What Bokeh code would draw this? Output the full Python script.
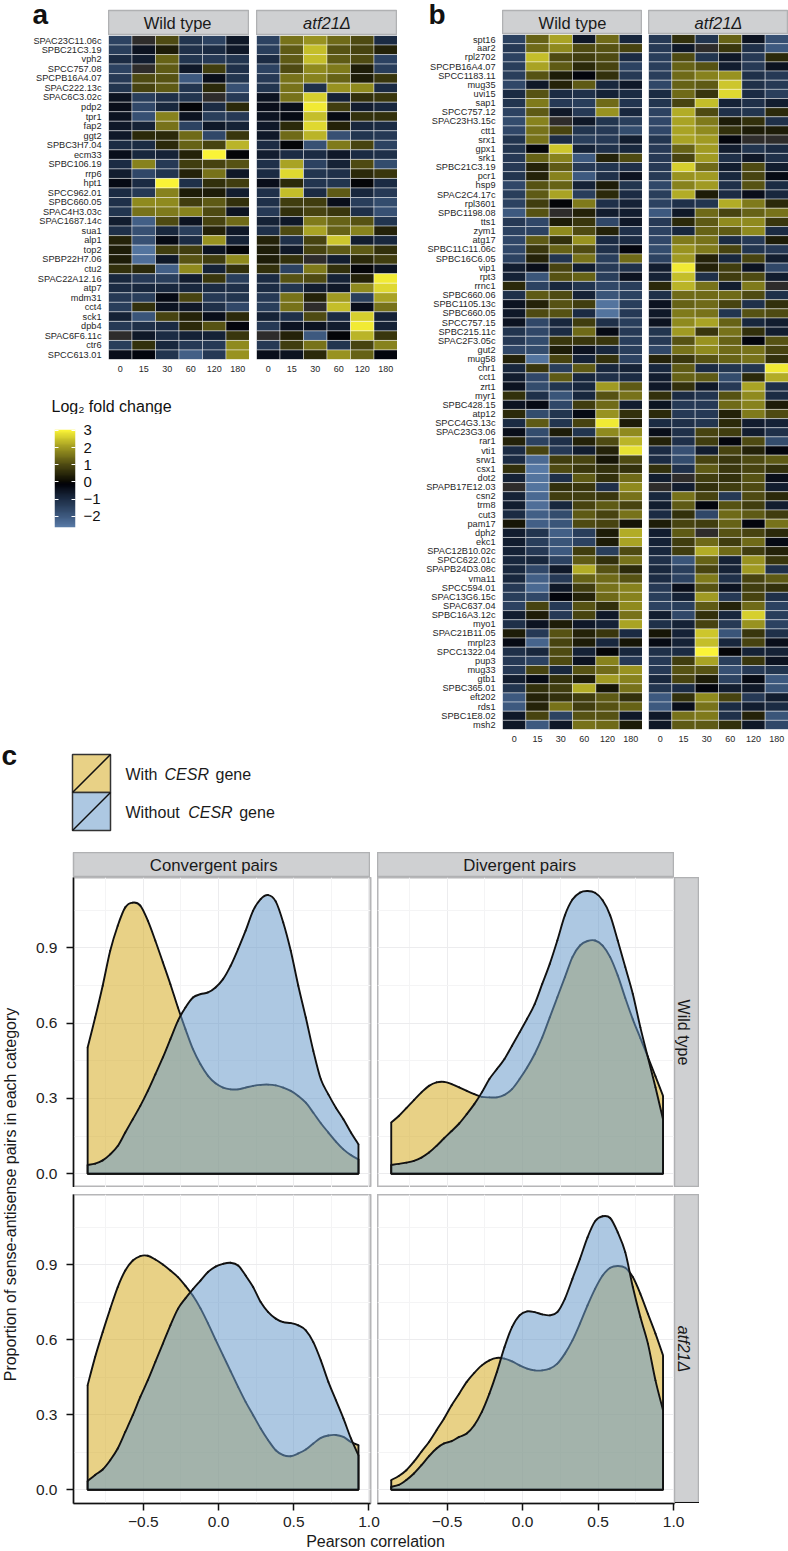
import numpy as np
from math import pi
from bokeh.plotting import figure
from bokeh.models import (Row, Column, ColumnDataSource, LinearColorMapper, LinearAxis, Grid,
                          FixedTicker, NumeralTickFormatter)
from bokeh.core.properties import value
from bokeh.transform import transform
from bokeh.embed import file_html
from bokeh.resources import INLINE

FONT = "Liberation Sans"
times = ["0", "15", "30", "60", "120", "180"]

a_genes = ["SPAC23C11.06c","SPBC21C3.19","vph2","SPCC757.08","SPCPB16A4.07","SPAC222.13c","SPAC6C3.02c","pdp2","tpr1","fap2","ggt2","SPBC3H7.04","ecm33","SPBC106.19","rrp6","hpt1","SPCC962.01","SPBC660.05","SPAC4H3.03c","SPAC1687.14c","sua1","alp1","top2","SPBP22H7.06","ctu2","SPAC22A12.16","atp7","mdm31","cct4","sck1","dpb4","SPAC6F6.11c","ctr6","SPCC613.01"]

a_wt = [
[-1.5,0,1.0,-1.2,-1.5,-0.6],[-1.4,-0.5,0.3,-1.1,-1.0,-0.6],[-1.0,-0.7,1.3,-1.2,-1.3,-1.2],[-1.5,0,1.2,-0.6,0.8,-1.1],
[-1.3,1.0,1.1,-2.0,-0.4,-1.2],[-1.2,0.9,1.2,-1.2,0.5,-1.8],[-0.5,-1.4,-1.1,-1.2,0,-1.3],[-0.4,-1.6,-0.9,-0.1,-1.0,0.5],
[-0.5,-1.8,1.7,-0.5,-1.4,-1.3],[-0.6,-0.8,1.5,-1.5,-0.6,-0.8],[-0.6,0.5,0.5,1.4,-1.6,0.7],[-1.0,-1.0,0.5,1.3,0.9,2.3],
[-0.4,-0.9,-0.8,0.4,3.0,-0.1],[-1.0,1.7,-1.3,0.8,0.9,1.1],[-0.7,-1.6,-1.2,0.4,1.5,-0.6],[-0.3,-1.0,3.0,-1.1,0.6,0.8],
[-1.0,-1.3,1.7,0.3,0.3,-0.7],[-1.1,1.8,1.8,0.8,1.2,0.6],[-1.2,1.5,1.6,1.7,1.0,-0.5],[-0.7,-2.1,1.0,-0.5,0.9,1.4],
[-1.1,-1.8,-0.9,-1.4,0.4,-0.6],[0.4,-1.8,-0.3,-1.0,1.9,-0.8],[0.3,-2.5,0.8,0.8,-0.5,-0.1],[0.3,-2.4,-0.6,1.1,0.8,1.8],
[0.6,0.5,-2.1,1.8,-0.8,0.6],[-0.9,-1.3,-1.4,-0.7,0.7,-1.4],[-1.0,-0.9,-0.9,-0.9,-1.0,-1.1],[-1.3,-1.4,-0.3,0.9,-1.3,-1.2],
[-1.4,0.6,-0.5,-0.6,-1.1,-1.6],[-0.8,-1.9,0.9,0.4,-0.4,0.5],[-1.3,-1.1,-1.0,0.5,1.1,-0.2],[0,-0.6,-1.0,-0.8,-0.8,0.7],
[-1.4,0.6,-0.9,-1.3,-1.3,1.8],[-0.4,-0.2,-1.2,-2.1,-1.3,1.9]]

a_atf = [
[-1.5,1.5,1.9,1.4,1.0,-1.0],[-1.4,1.2,2.4,1.1,0.9,0.4],[-1.0,1.2,2.4,1.2,1.0,-1.5],[-1.5,1.0,1.8,1.6,0.3,-1.4],
[-1.3,1.5,1.7,1.3,0.3,0.7],[-1.2,1.5,-1.1,1.9,1.8,-1.0],[-0.5,1.5,2.6,-0.8,0.6,0.7],[-0.4,-0.4,2.9,0.8,-0.7,-0.9],
[-0.5,-0.3,2.4,-0.3,0.6,0.6],[-0.6,0.5,2.7,0.4,-0.9,-1.0],[-0.6,1.4,2.3,-1.8,-1.2,-1.3],[-1.0,-0.1,-1.8,1.6,0.9,-1.5],
[-0.7,-1.0,-1.0,-0.6,-1.0,-1.1],[-1.1,2.1,-1.5,-0.8,1.0,-1.7],[-1.0,2.7,-1.2,-1.1,0.5,0.7],[-0.4,0.5,-1.2,-1.2,-0.1,-1.0],
[-1.1,2.4,-1.0,1.2,-0.9,-1.3],[-1.1,0.8,0.8,-0.4,-1.4,-1.7],[-1.3,0.6,0.9,0.7,-1.1,-1.8],[-0.8,-0.6,1.6,1.3,1.1,-1.2],
[-1.1,1.0,2.1,1.3,1.7,0.4],[0.4,-1.1,0.9,2.5,-0.7,-0.9],[0.3,-0.6,0.9,1.2,1.2,0.6],[0.3,0.6,0,-0.7,0.5,0.8],
[0.6,-1.5,1.6,0.6,-0.1,-0.5],[-1.0,1.1,1.0,-0.8,0.4,2.9],[-1.0,-1.2,-0.7,-0.6,1.8,2.7],[-1.3,1.5,0.4,2.0,-1.4,2.1],
[-1.4,1.5,0,2.4,-0.4,1.5],[-0.8,-1.1,1.0,-1.0,2.6,-0.8],[-1.3,-0.5,-0.5,-0.7,2.9,-0.8],[0,0.4,-2.0,-0.1,2.3,0.7],
[-1.3,0.8,1.5,-1.2,0.9,1.7],[-0.4,-0.5,0.5,1.9,1.3,-0.2]]

b_genes = ["spt16","aar2","rpl2702","SPCPB16A4.07","SPCC1183.11","mug35","uvi15","sap1","SPCC757.12","SPAC23H3.15c","ctt1","srx1","gpx1","srk1","SPBC21C3.19","pcr1","hsp9","SPAC2C4.17c","rpl3601","SPBC1198.08","tts1","zym1","atg17","SPBC11C11.06c","SPBC16C6.05","vip1","rpt3","rrnc1","SPBC660.06","SPBC1105.13c","SPBC660.05","SPCC757.15","SPBC215.11c","SPAC2F3.05c","gut2","mug58","chr1","cct1","zrt1","myr1","SPBC428.15","atp12","SPCC4G3.13c","SPAC23G3.06","rar1","vti1","srw1","csx1","dot2","SPAPB17E12.03","csn2","trm8","cut3","pam17","dph2","ekc1","SPAC12B10.02c","SPCC622.01c","SPAPB24D3.08c","vma11","SPCC594.01","SPAC13G6.15c","SPAC637.04","SPBC16A3.12c","myo1","SPAC21B11.05","mrpl23","SPCC1322.04","pup3","mug33","gtb1","SPBC365.01","eft202","rds1","SPBC1E8.02","msh2"]

b_wt = [
[-1.5,1.3,2.1,-0.6,1.4,-0.9],[-1.3,1.4,1.8,1.0,1.1,0.9],[-1.5,2.4,1.0,0.8,1.0,-1.0],[-1.4,2.1,1.2,0.5,0.9,-1.5],
[-1.4,1.1,0.3,-0.2,0.6,-1.3],[-1.6,-0.6,0.4,1.2,-0.9,-0.6],[-1.0,1.1,-1.0,-1.1,-0.8,-1.0],[-1.2,1.6,-1.3,-1.4,1.4,-1.2],
[-1.5,1.2,-0.6,-1.3,1.9,-0.9],[-1.7,1.7,0,-0.6,-1.2,-1.4],[-1.6,1.5,0.9,-1.2,-1.3,-1.7],[-1.2,1.5,-1.0,-1.4,-1.3,-0.7],
[-1.2,-0.1,2.5,-0.8,-1.1,-0.9],[-1.3,1.3,1.7,-2.0,0.4,1.0],[-1.3,0.4,1.2,-1.3,-1.2,-1.1],[-1.2,0.4,1.7,-2.0,-1.1,-0.5],
[-1.6,1.1,1.3,-0.8,0.3,-1.2],[-1.4,1.2,2.1,-1.4,0.5,-1.0],[-1.5,0.8,-0.1,1.6,-1.1,-0.8],[-2.0,1.1,0,0.4,-0.7,-0.7],
[-1.3,-1.6,0.3,0.7,-1.6,-0.6],[-1.5,-1.5,1.8,1.0,0.4,-1.1],[-1.6,1.2,0.6,1.9,-1.0,-1.0],[-1.6,0.7,1.3,1.0,-1.1,-0.2],
[-1.5,0.4,-1.2,1.5,-1.4,1.4],[-0.7,-0.4,0.9,-0.7,-1.3,-1.1],[-0.8,-1.9,1.1,1.3,-1.4,-0.5],[0.5,-1.5,-0.9,-1.2,-1.6,-1.4],
[-1.1,1.2,1.0,-0.8,-1.9,-1.5],[-0.5,0.4,1.1,0.8,-2.5,-1.4],[-0.6,1.0,1.1,-1.0,-2.5,-1.3],[-0.5,-1.6,-0.9,0.8,-1.1,-1.4],
[-1.2,-1.6,-1.0,1.4,-0.3,-1.3],[-1.3,-1.7,0.7,0.7,0.7,-1.4],[-1.6,-1.7,0.3,-0.5,-0.9,-1.4],[0.4,-2.5,0.9,-0.8,0.6,-1.5],
[-0.9,0.7,-1.4,1.2,-0.9,-0.8],[-0.7,-1.6,1.2,-0.9,-1.1,-1.0],[-0.5,-1.7,-1.2,-0.9,2.0,1.2],[0.6,-1.1,-1.9,-0.9,1.1,1.5],
[-0.5,-0.3,-1.6,0.8,1.4,-0.7],[0.5,-1.7,-1.2,-0.3,1.9,0.6],[-1.0,1.2,-1.2,0.9,2.9,0.3],[-0.4,-1.7,0.3,-1.2,1.8,1.8],
[0.4,-1.5,-1.1,0.4,1.0,2.3],[-1.0,0.9,-1.3,-0.7,0.4,2.8],[-1.0,-2.3,0.8,0.9,0.2,1.0],[0.6,-2.6,1.0,0.7,0.6,0.6],
[-0.8,-2.5,-1.1,1.2,0.6,1.4],[0,-2.5,0.6,0.7,-1.1,1.8],[-0.8,-2.3,0.8,0.8,0.7,1.5],[-0.7,-2.4,-0.9,0.9,1.2,0.9],
[-1.0,-2.1,-1.7,1.2,0.9,1.5],[0.2,-2.1,-1.9,1.0,0.9,0.2],[-0.7,-1.2,-2.1,-1.4,0.3,2.2],[-0.7,-1.4,-1.9,-1.5,0.3,2.1],
[-0.8,-1.3,-2.0,0.8,-1.4,1.0],[-0.9,-0.9,-1.5,1.2,0.6,1.5],[-0.9,-1.6,-0.6,2.2,1.1,0.5],[-0.9,-2.1,-1.3,1.3,1.4,1.1],
[-1.3,-2.3,-0.6,0.8,1.5,1.7],[-1.4,-1.6,-0.2,0.4,1.4,1.7],[-1.5,0.9,-1.3,1.1,0.6,1.8],[-0.7,0.3,-1.3,0.9,-0.6,1.5],
[-1.1,-0.5,0.3,-0.6,-0.8,2.1],[0.3,-1.3,1.1,0.4,0.7,-1.0],[-0.3,-2.2,0.9,0.3,-0.9,0.2],[-1.1,-0.9,1.0,-0.8,-0.1,-0.9],
[-1.3,-1.5,1.0,-0.5,1.7,-1.3],[-1.3,0.9,-0.9,1.1,1.4,1.9],[-0.7,-0.3,0.6,0.3,2.0,1.7],[-1.2,0.6,0.8,2.2,0.2,1.5],
[-2.0,0.4,0.6,0.8,1.2,0.6],[-2.0,0.4,1.5,0.8,1.1,1.3],[-0.6,0.9,-1.5,1.1,1.1,-0.6],[-0.6,-2.0,-0.6,1.5,1.4,0.3]]

b_atf = [
[-1.3,0.6,-1.2,1.3,-0.5,-1.8],[-1.3,-0.6,0,0.7,-1.1,-2.0],[-1.4,1.0,-1.2,-0.6,-1.3,0.5],[-1.4,1.3,1.1,-0.7,-1.3,-0.5],
[-1.4,1.4,1.7,1.9,-1.1,-1.3],[-1.6,1.3,1.2,2.5,-1.1,-1.3],[-1.0,1.4,0.7,2.7,-1.0,-1.4],[-1.2,0.9,2.4,-0.8,-1.1,-0.7],
[-1.5,2.2,1.0,-1.1,-1.2,0.5],[-1.6,2.1,1.6,0.3,0.6,-1.1],[-1.6,2.1,1.8,0.6,0.3,0.3],[-1.2,2.1,2.0,-0.2,0,0],
[-1.3,1.3,2.0,-0.7,-1.2,-1.0],[-1.3,0.9,2.0,-1.1,-0.6,-1.1],[-1.3,2.6,1.4,-0.7,1.0,-0.7],[-1.3,1.9,2.0,-0.9,0.9,-0.3],
[-1.6,1.7,2.0,-1.1,1.1,-1.0],[-1.4,2.2,0.3,-1.0,-0.4,-0.9],[-1.5,-1.1,-1.2,2.2,1.6,0.5],[-2.0,-0.6,1.4,0.9,1.3,1.5],
[-1.3,0.5,1.2,1.8,1.8,0.7],[-1.5,-0.9,1.3,1.2,1.8,-1.0],[-1.6,1.6,1.5,-1.0,-1.3,0.3],[-1.7,1.9,1.6,0.9,-1.2,-1.3],
[-1.5,2.0,0.4,-0.9,0.9,-0.7],[-0.7,2.9,0.4,0.8,-0.5,-1.6],[-0.8,2.4,-1.1,0.8,1.0,-0.7],[0.5,2.3,1.5,-0.7,1.6,0],
[-1.1,1.4,1.4,1.4,1.0,-1.1],[-0.5,1.3,1.4,0.9,-1.1,0.6],[-0.6,1.6,1.5,-1.2,1.1,1.0],[-0.5,1.8,2.1,1.3,-0.9,-0.7],
[-1.2,2.0,0.7,1.5,0.6,-0.7],[-1.3,1.1,1.9,1.3,-0.2,1.1],[-1.6,1.5,1.8,1.4,1.5,0.9],[0.4,0.7,1.1,1.3,1.5,0.6],
[-0.9,1.2,-1.0,-1.2,-1.2,2.9],[-0.7,1.3,1.2,-1.7,0.5,2.2],[-0.6,0.6,-0.6,-1.3,2.1,-1.1],[0.6,-1.0,-1.2,1.1,1.8,-1.0],
[-0.5,-1.3,-1.3,1.4,1.7,0.3],[0.5,-1.3,-1.3,0.4,1.6,1.0],[-1.0,-1.1,-1.2,0.5,-0.7,-0.8],[-0.4,-1.1,0.9,0.8,-0.7,-1.1],
[0.4,-1.1,0.8,-0.2,1.0,-1.7],[-1.0,-1.8,-0.7,0.9,0.4,-0.2],[-1.0,-1.7,0.9,0.7,1.0,1.2],[0.6,-1.1,1.2,0.7,0.9,0.6],
[-0.7,0,0.8,0.6,1.1,-0.4],[0,-0.7,0.6,0.8,1.0,-0.7],[-0.9,1.5,0.9,-1.3,1.0,0.5],[-0.7,1.2,-0.2,1.1,0.8,-0.7],
[-1.0,0.6,-1.6,1.4,1.2,0.8],[0.3,0.9,0.8,1.3,-0.2,1.5],[-0.7,1.2,0,1.1,0.9,0.5],[-0.8,0.8,1.4,0.8,1.4,-0.3],
[-0.9,0.8,2.2,1.4,0.8,0.4],[-1.1,-1.9,1.3,-0.8,1.9,0.7],[-0.9,-1.4,0.9,-0.8,2.0,-1.1],[-1.0,-1.5,1.6,-1.1,0.9,1.2],
[-1.3,-0.4,1.1,-0.5,0.8,0.6],[-1.4,-0.8,2.0,-1.3,0.9,-1.1],[-1.5,-1.4,1.2,0.4,1.4,-1.5],[-0.7,-1.6,0.6,-0.9,2.6,-1.4],
[-1.1,-0.8,0.9,-1.3,1.9,-1.5],[0.2,-0.8,2.5,-1.9,0.7,-1.1],[-0.3,-0.8,2.4,-0.9,0.9,-0.4],[-1.1,-1.0,3.0,-0.1,-0.8,-0.8],
[-1.3,0.8,2.1,-1.4,0.7,-0.5],[-1.3,1.1,1.1,-1.8,-1.3,-1.2],[-0.9,0.9,0.3,-1.5,-0.3,-2.0],[-1.2,-1.0,-0.2,-0.7,-0.6,-1.9],
[-2.0,0.6,1.8,0.9,-1.3,-0.7],[-2.0,-0.4,1.5,-1.0,-0.7,-1.0],[-0.6,1.5,1.6,-1.1,0.4,-1.9],[-0.6,1.2,1.2,0.6,-0.6,-1.6]]

# density curves, read at the same correlation values
corr = [-0.87,-0.82,-0.77,-0.72,-0.67,-0.62,-0.57,-0.52,-0.47,-0.42,-0.37,-0.32,-0.27,-0.22,-0.17,-0.12,-0.07,-0.02,0.03,0.08,0.13,0.18,0.23,0.28,0.33,0.38,0.43,0.48,0.53,0.58,0.63,0.68,0.73,0.78,0.83,0.88,0.93]
conv_wt_with = [.503,.622,.749,.888,.988,1.061,1.080,1.068,1.008,.928,.842,.755,.662,.576,.496,.436,.390,.360,.343,.336,.336,.343,.350,.354,.355,.352,.343,.330,.310,.283,.243,.201,.164,.128,.097,.074,.057]
conv_wt_without = [.035,.040,.053,.077,.110,.164,.217,.270,.330,.396,.463,.536,.609,.662,.702,.715,.722,.742,.775,.828,.895,.968,1.048,1.094,1.110,1.085,1.001,.888,.749,.622,.489,.376,.316,.263,.217,.164,.117]
div_wt_with = [.204,.230,.261,.293,.324,.350,.364,.366,.357,.344,.330,.317,.306,.304,.304,.314,.337,.377,.423,.477,.543,.623,.703,.783,.863,.909,.927,.929,.909,.863,.790,.700,.615,.540,.465,.388,.310]
div_wt_without = [.035,.039,.044,.051,.064,.084,.111,.141,.170,.200,.237,.277,.324,.377,.417,.457,.510,.563,.617,.676,.756,.836,.929,1.029,1.092,1.120,1.126,1.119,1.089,1.029,.929,.823,.716,.583,.463,.344,.217]
conv_atf_with = [.418,.531,.630,.723,.810,.876,.916,.934,.935,.920,.900,.876,.850,.815,.775,.725,.665,.600,.537,.474,.411,.351,.298,.245,.198,.158,.138,.134,.145,.161,.185,.207,.217,.219,.211,.191,.178]
conv_atf_without = [.035,.059,.081,.118,.165,.231,.298,.371,.438,.511,.584,.657,.723,.765,.802,.836,.870,.892,.903,.907,.896,.856,.810,.750,.710,.684,.670,.666,.657,.637,.590,.517,.431,.358,.285,.205,.138]
div_atf_with = [.039,.055,.078,.112,.152,.191,.238,.285,.338,.384,.431,.467,.497,.517,.527,.524,.513,.497,.484,.477,.477,.484,.504,.544,.597,.664,.737,.803,.856,.887,.894,.887,.850,.783,.703,.624,.537]
div_atf_without = [.012,.019,.039,.065,.098,.134,.165,.185,.194,.211,.225,.258,.311,.384,.471,.570,.650,.697,.713,.710,.701,.697,.710,.763,.843,.923,1.009,1.073,1.093,1.086,1.029,.949,.810,.690,.584,.437,.318]

scale_values = [-2.65, -2.0, -1.0, -0.15, 0.02, 1.0, 2.0, 3.05]
scale_colors = ["#5a7ca8", "#3e5a80", "#1c2c44", "#02030a", "#0a0a04", "#4e4a12", "#a09a22", "#fff838"]
legend_ticks = [-2, -1, 0, 1, 2, 3]

# ---------- colour scale ----------
LOW, HIGH, STEP = -2.65, 3.05, 0.005
lv = LOW + (np.arange(int(round((HIGH - LOW) / STEP))) + 0.5) * STEP
rgb = np.array([[int(c[i:i + 2], 16) for i in (1, 3, 5)] for c in scale_colors], float)
chan = [np.interp(lv, scale_values, rgb[:, k]) for k in range(3)]
palette = ["#%02x%02x%02x" % (int(r), int(g), int(b)) for r, g, b in zip(*chan)]
for i, v in enumerate(lv):
    if abs(v) < 0.02:           # cells at the midpoint print as a dark grey
        palette[i] = "#2e2c2b"
mapper = LinearColorMapper(palette=palette, low=LOW, high=HIGH)

STRIP = "#cfd0d2"
STRIP_LINE = "#b0b1b3"


def fig(w, h, l=0, r=0, t=0, b=0, margin=(0, 0, 0, 0), **kw):
    f = figure(width=w, height=h, min_border_left=l, min_border_right=r, min_border_top=t, min_border_bottom=b,
               toolbar_location=None, output_backend="svg", margin=margin, frame_align=False, **kw)
    f.border_fill_color = None
    f.grid.visible = False
    return f


def strip(text, w, h, l=0, t=0, b=0, margin=(0, 0, 0, 0), size="16.5px", style="normal", angle=0.0,
          tx=0.5, ty=0.5, line=1.5):
    f = fig(w, h, l=l, t=t, b=b, margin=margin, x_range=(0, 1), y_range=(0, 1),
            x_axis_location=None, y_axis_location=None)
    f.background_fill_color = STRIP
    f.outline_line_color = STRIP_LINE
    f.outline_line_width = line
    f.text(x=[tx], y=[ty], text=[text], text_align="center", text_baseline="middle", angle=angle,
           text_font=value(FONT), text_font_size=size, text_font_style=style, text_color="#1a1a1a")
    return f


def letter_fig(w, h, x, y, s):
    """A panel letter in its own small figure, x and y in the figure's own pixels, y counted from its top."""
    f = fig(w, h, x_range=(0, w), y_range=(h, 0), x_axis_location=None, y_axis_location=None)
    f.outline_line_color = None
    f.text(x=[x], y=[y], text=[s], text_font=value(FONT), text_font_style="bold", text_font_size="28px",
           text_color="#111111", text_baseline="middle", text_align="left")
    return f


def heat(genes, rows, w, h, l=0, b=0, margin=(0, 0, 0, 0), labels=True):
    f = fig(w, h, l=l, b=b, margin=margin, x_range=times, y_range=list(reversed(genes)),
            y_axis_location="left" if labels else None)
    xs, ys, vs = [], [], []
    for g, row in zip(genes, rows):
        for t, v in zip(times, row):
            xs.append(t); ys.append(g); vs.append(v)
    src = ColumnDataSource(dict(x=xs, y=ys, v=vs))
    f.rect("x", "y", width=1, height=1, source=src, fill_color=transform("v", mapper),
           line_color="white", line_alpha=0.55, line_width=0.8)
    f.outline_line_color = None
    axes = [f.xaxis[0]] + ([f.yaxis[0]] if labels else [])
    for ax in axes:
        ax.axis_line_color = None
        ax.major_tick_line_color = None
        ax.major_tick_out = 0
        ax.major_tick_in = 0
        ax.major_label_text_font = FONT
        ax.major_label_text_color = "#262626"
    f.xaxis[0].major_label_text_font_size = "9px"
    f.xaxis[0].major_label_standoff = 6
    if labels:
        f.yaxis[0].major_label_text_font_size = "9.2px"
        f.yaxis[0].major_label_standoff = 7
    return f


def outline(f, vals):
    n = len(corr)
    x, y = np.array(corr), np.array(vals)
    i = np.arange(n - 1)
    prv, nxt = np.maximum(i - 1, 0), np.minimum(i + 2, n - 1)
    f.bezier(x0=x[i], y0=y[i], x1=x[i + 1], y1=y[i + 1],
             cx0=x[i] + (x[i + 1] - x[prv]) / 6, cy0=y[i] + (y[i + 1] - y[prv]) / 6,
             cx1=x[i + 1] - (x[nxt] - x[i]) / 6, cy1=y[i + 1] - (y[nxt] - y[i]) / 6,
             line_color="#111111", line_width=1.9, line_cap="round")
    f.line([corr[0], corr[0], corr[-1], corr[-1]], [vals[0], 0, 0, vals[-1]], line_color="#111111", line_width=1.9)


def density(with_vals, without_vals, w, h, xr, l=0, r=0, b=0, margin=(0, 0, 0, 0), left=False, bottom=False):
    f = fig(w, h, l=l, r=r, b=b, margin=margin, x_range=xr, y_range=(-0.055, 1.18),
            x_axis_location="below" if bottom else None, y_axis_location="left" if left else None)
    f.add_layout(Grid(dimension=0, ticker=FixedTicker(ticks=[-0.5, 0, 0.5, 1.0], minor_ticks=[-0.75, -0.25, 0.25, 0.75]),
                      grid_line_color="#ececee", minor_grid_line_color="#f4f4f5", grid_line_width=1))
    f.add_layout(Grid(dimension=1, ticker=FixedTicker(ticks=[0, 0.3, 0.6, 0.9], minor_ticks=[0.15, 0.45, 0.75, 1.05]),
                      grid_line_color="#ececee", minor_grid_line_color="#f4f4f5", grid_line_width=1))
    px = [corr[0]] + corr + [corr[-1]]
    for vals, col in ((with_vals, "#d5ab23"), (without_vals, "#6a9bca")):
        f.patch(px, [0] + vals + [0], fill_color=col, fill_alpha=0.55, line_color=None)
        outline(f, vals)
    f.outline_line_color = "#b6b6b8"
    f.outline_line_width = 2
    axes = []
    if bottom:
        ax = f.xaxis[0]
        ax.ticker = FixedTicker(ticks=[-0.5, 0, 0.5, 1.0])
        ax.formatter = NumeralTickFormatter(format="0.0")
        ax.major_label_overrides = {-0.5: "\u22120.5"}
        ax.major_label_standoff = 6
        axes.append(ax)
    if left:
        ax = f.yaxis[0]
        ax.ticker = FixedTicker(ticks=[0, 0.3, 0.6, 0.9])
        ax.formatter = NumeralTickFormatter(format="0.0")
        ax.major_label_standoff = 9
        axes.append(ax)
    for ax in axes:
        ax.axis_line_color = "#111111"
        ax.axis_line_width = 1.5
        ax.major_tick_line_color = "#111111"
        ax.major_tick_line_width = 1.5
        ax.major_tick_out = 7
        ax.major_tick_in = 0
        ax.minor_tick_line_color = None
        ax.major_label_text_font = FONT
        ax.major_label_text_font_size = "15.5px"
        ax.major_label_text_color = "#222222"
    return f


# ---------- panel a ----------
la = letter_fig(108, 35, 32, 14, "a")
sa1 = strip("Wild type", 141, 35, t=10, tx=0.49)
sa2 = strip("atf21\u0394", 141, 35, t=10, margin=(0, 0, 0, 7), style="italic")
ha1 = heat(a_genes, a_wt, 249, 349, l=108, b=25)
ha2 = heat(a_genes, a_atf, 141, 349, b=25, margin=(0, 0, 0, 7), labels=False)

# legend of the colour scale
lt = fig(190, 30, x_range=(0, 190), y_range=(30, 0), x_axis_location=None, y_axis_location=None)
lt.outline_line_color = None
lt.text(x=[51], y=[22], text=["Log\u2082 fold change"], text_font=value(FONT), text_font_size="16px",
        text_color="#111111", text_baseline="middle", text_align="left")
lg = fig(190, 118, l=54, r=115, t=15, b=5, x_range=(0, 1), y_range=(-2.65, 3.05),
         x_axis_location=None, y_axis_location=None)
levels = np.arange(-2.625, 3.05, 0.05)
lg.image(image=[levels.reshape(-1, 1)], x=0, y=-2.65, dw=1, dh=5.7, color_mapper=mapper)
lg.outline_line_color = None
for side, show in (("right", True), ("left", False)):
    ax = LinearAxis(ticker=FixedTicker(ticks=legend_ticks), axis_line_color=None, major_tick_in=4, major_tick_out=0,
                    major_tick_line_color="#ffffff", minor_tick_line_color=None,
                    major_label_text_font=FONT, major_label_text_font_size="15px", major_label_text_color="#111111",
                    major_label_standoff=8, major_label_text_align="left",
                    major_label_overrides={-2: "\u22122", -1: "\u22121"})
    if not show:
        ax.major_label_text_color = None
        ax.major_label_text_font_size = "1px"
    lg.add_layout(ax, side)

left_col = Column(children=[Row(children=[la, sa1, sa2], spacing=0), Row(children=[ha1, ha2], spacing=0), lt, lg], spacing=0)

# ---------- panel b ----------
lb = letter_fig(82, 34, 8, 14, "b")
sb1 = strip("Wild type", 140, 34, t=10)
sb2 = strip("atf21\u0394", 140, 34, t=10, margin=(0, 0, 0, 6), style="italic")
hb1 = heat(b_genes, b_wt, 222, 713, l=82, b=18)
hb2 = heat(b_genes, b_atf, 140, 713, b=18, margin=(0, 0, 0, 6), labels=False)
right_col = Column(children=[Row(children=[lb, sb1, sb2], spacing=0), Row(children=[hb1, hb2], spacing=0)], spacing=0,
                   margin=(0, 0, 0, 23))
top = Row(children=[left_col, right_col], spacing=0)

# ---------- panel c key (its figure overlaps the row above by 12px, so that the letter c has room) ----------
key = fig(788, 117, x_range=(0, 788), y_range=(852, 735), x_axis_location=None, y_axis_location=None,
          margin=(-12, 0, 0, 0))
key.outline_line_color = None
key.background_fill_color = None
key.quad(left=[72, 72], right=[110, 110], top=[754, 792], bottom=[792, 830], fill_color=["#e8d186", "#adc8e2"],
         line_color="#333333", line_width=1.5)
key.segment(x0=[72, 72], y0=[792, 830], x1=[110, 110], y1=[754, 792], line_color="#111111", line_width=1.5)
for xs, ws, y in (((125, 164, 215), ("With", "CESR", "gene"), 773.5), ((125, 187.7, 238.7), ("Without", "CESR", "gene"), 812)):
    for tx, word, st in zip(xs, ws, ("normal", "italic", "normal")):
        key.text(x=[tx], y=[y], text=[word], text_font=value(FONT), text_font_size="16px", text_font_style=st,
                 text_color="#1a1a1a", text_baseline="middle", text_align="left")
key.text(x=[1], y=[755], text=["c"], text_font=value(FONT), text_font_size="28px", text_font_style="bold",
         text_color="#111111", text_baseline="middle", text_align="left")

# ---------- panel c ----------
XL = (-0.964, 1.01)
XR = (-0.961, 1.006)
ylab = fig(22, 679, x_range=(0, 1), y_range=(0, 1), x_axis_location=None, y_axis_location=None)
ylab.outline_line_color = None
ylab.text(x=[0.45], y=[(1531 - 1194) / 679], text=["Proportion of sense-antisense pairs in each category"], angle=pi / 2,
          text_align="center", text_baseline="middle", text_font=value(FONT), text_font_size="16px", text_color="#1a1a1a")

sc1 = strip("Convergent pairs", 348, 25, l=51, size="16.8px", tx=0.472)
sc2 = strip("Divergent pairs", 297, 25, margin=(0, 0, 0, 7), size="16.8px", tx=0.479)
c11 = density(conv_wt_with, conv_wt_without, 360, 310, XL, l=51, r=12, left=True)
c12 = density(div_wt_with, div_wt_without, 309, 310, XR, r=12, margin=(0, 0, 0, -5))
sr1 = strip("Wild type", 25, 310, margin=(0, 0, 0, -12), size="16px", angle=-pi / 2, tx=0.36)
c21 = density(conv_atf_with, conv_atf_without, 360, 343, XL, l=51, r=12, b=34, margin=(7, 0, 0, 0), left=True, bottom=True)
c22 = density(div_atf_with, div_atf_without, 309, 343, XR, r=12, b=34, margin=(7, 0, 0, -5), bottom=True)
sr2 = strip("atf21\u0394", 25, 309, margin=(7, 0, 0, -12), size="16px", style="italic", angle=-pi / 2, tx=0.36)
sr2.segment(x0=[0], y0=[0], x1=[1], y1=[0], line_color="#111111", line_width=3)

cpanels = Column(children=[Row(children=[sc1, sc2], spacing=0), Row(children=[c11, c12, sr1], spacing=0),
                           Row(children=[c21, c22, sr2], spacing=0)], spacing=0)
crow = Row(children=[ylab, cpanels], spacing=0)

xlab = fig(788, 20, x_range=(0, 788), y_range=(0, 1), x_axis_location=None, y_axis_location=None,
           margin=(-6, 0, 0, 0))
xlab.outline_line_color = None
xlab.text(x=[375], y=[0.5], text=["Pearson correlation"], text_align="center", text_baseline="middle",
          text_font=value(FONT), text_font_size="16px", text_color="#1a1a1a")

root = Column(children=[top, key, crow, xlab], spacing=0, margin=(0, 0, 0, 0))
open("out.html", "w").write(file_html(root, INLINE))
